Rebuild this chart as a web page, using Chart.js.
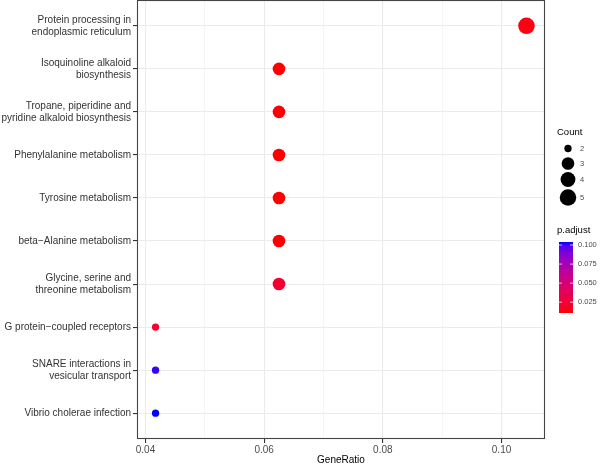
<!DOCTYPE html>
<html>
<head>
<meta charset="utf-8">
<script src="https://cdn.jsdelivr.net/npm/chart.js@4/dist/chart.umd.min.js"></script>
<style>
  html, body { margin: 0; padding: 0; background: #fff; }
  #wrap { width: 600px; height: 466px; }
</style>
</head>
<body>
<div id="wrap"><canvas id="dotplot" width="600" height="466"></canvas></div>
<script>
// enrichment terms, top to bottom
const terms = [
  'Protein processing in\nendoplasmic reticulum',
  'Isoquinoline alkaloid\nbiosynthesis',
  'Tropane, piperidine and\npyridine alkaloid biosynthesis',
  'Phenylalanine metabolism',
  'Tyrosine metabolism',
  'beta\u2212Alanine metabolism',
  'Glycine, serine and\nthreonine metabolism',
  'G protein\u2212coupled receptors',
  'SNARE interactions in\nvesicular transport',
  'Vibrio cholerae infection'
];
const geneRatio = [0.1042, 0.0625, 0.0625, 0.0625, 0.0625, 0.0625, 0.0625, 0.0417, 0.0417, 0.0417];
const counts    = [5, 3, 3, 3, 3, 3, 3, 2, 2, 2];
const pAdjust   = [0.0135, 0.0108, 0.0108, 0.0108, 0.0108, 0.0110, 0.0220, 0.0220, 0.1015, 0.1040];

const xTicks = [0.04, 0.06, 0.08, 0.10];
const xMinorTicks = [0.05, 0.07, 0.09];
const countBreaks = [2, 3, 4, 5];
const pBreaks = [0.025, 0.050, 0.075, 0.100];

const FONT = "'Liberation Sans', Arial, sans-serif";

// ggplot-like 5% expansion of x range
const gMin = Math.min(...geneRatio), gMax = Math.max(...geneRatio);
const xMin = gMin - 0.05 * (gMax - gMin);
const xMax = gMax + 0.05 * (gMax - gMin);

// point size: area scale like scale_size(range = c(3, 8))
const cMin = Math.min(...counts), cMax = Math.max(...counts);
function sizeOf(c) {
  return 0.92 * (3 + 5 * Math.sqrt((c - cMin) / (cMax - cMin))) + 0.9;
}

// red -> blue gradient interpolated in CIELAB
function toLin(c) { c /= 255; return c <= 0.04045 ? c / 12.92 : Math.pow((c + 0.055) / 1.055, 2.4); }
function fromLin(c) { c = c <= 0.0031308 ? 12.92 * c : 1.055 * Math.pow(c, 1 / 2.4) - 0.055; return Math.round(Math.max(0, Math.min(1, c)) * 255); }
function rgbToLab(r, g, b) {
  r = toLin(r); g = toLin(g); b = toLin(b);
  const X = (0.4124 * r + 0.3576 * g + 0.1805 * b) / 0.95047;
  const Y = (0.2126 * r + 0.7152 * g + 0.0722 * b);
  const Z = (0.0193 * r + 0.1192 * g + 0.9505 * b) / 1.08883;
  const f = t => t > 0.008856 ? Math.cbrt(t) : 7.787 * t + 16 / 116;
  return [116 * f(Y) - 16, 500 * (f(X) - f(Y)), 200 * (f(Y) - f(Z))];
}
function labToRgb(L, a, b) {
  const fy = (L + 16) / 116, fx = fy + a / 500, fz = fy - b / 200;
  const inv = t => t * t * t > 0.008856 ? t * t * t : (t - 16 / 116) / 7.787;
  const X = inv(fx) * 0.95047, Y = inv(fy), Z = inv(fz) * 1.08883;
  const r = 3.2406 * X - 1.5372 * Y - 0.4986 * Z;
  const g = -0.9689 * X + 1.8758 * Y + 0.0415 * Z;
  const bl = 0.0557 * X - 0.2040 * Y + 1.0570 * Z;
  return 'rgb(' + fromLin(r) + ',' + fromLin(g) + ',' + fromLin(bl) + ')';
}
const labLow = rgbToLab(255, 0, 0), labHigh = rgbToLab(0, 0, 255);
const pMin = Math.min(...pAdjust), pMax = Math.max(...pAdjust);
function colourOf(p) {
  const t = Math.max(0, Math.min(1, (p - pMin) / (pMax - pMin)));
  return labToRgb(
    labLow[0] + t * (labHigh[0] - labLow[0]),
    labLow[1] + t * (labHigh[1] - labLow[1]),
    labLow[2] + t * (labHigh[2] - labLow[2])
  );
}

// panel border + size and colour legends
const frameAndLegends = {
  id: 'frameAndLegends',
  afterDraw(chart) {
    const { ctx, chartArea: a } = chart;
    ctx.save();
    ctx.strokeStyle = '#444444';
    ctx.lineWidth = 1.1;
    ctx.strokeRect(Math.round(a.left) + 0.5, Math.round(a.top) + 0.5,
      Math.round(a.right - a.left) - 1, Math.round(a.bottom - a.top) - 1);

    // Count legend
    ctx.fillStyle = '#000';
    ctx.textBaseline = 'middle';
    ctx.textAlign = 'left';
    ctx.font = '9.5px ' + FONT;
    ctx.fillText('Count', 557, 132);
    const keyY = [148.5, 163.5, 179.5, 197.5];
    countBreaks.forEach((c, i) => {
      ctx.fillStyle = '#000';
      ctx.beginPath();
      ctx.arc(568, keyY[i], sizeOf(c), 0, Math.PI * 2);
      ctx.fill();
      ctx.fillStyle = '#4D4D4D';
      ctx.font = '7.5px ' + FONT;
      ctx.fillText(String(c), 580, keyY[i]);
    });

    // p.adjust colourbar
    ctx.fillStyle = '#000';
    ctx.font = '9.5px ' + FONT;
    ctx.fillText('p.adjust', 557, 230);
    const bx = 559, bw = 14, bTop = 242, bBot = 313;
    const grad = ctx.createLinearGradient(0, bBot, 0, bTop);
    for (let k = 0; k <= 20; k++) {
      grad.addColorStop(k / 20, colourOf(pMin + (k / 20) * (pMax - pMin)));
    }
    ctx.fillStyle = grad;
    ctx.fillRect(bx, bTop, bw, bBot - bTop);
    ctx.font = '7.5px ' + FONT;
    pBreaks.forEach(v => {
      const y = bBot - (v - pMin) / (pMax - pMin) * (bBot - bTop);
      ctx.strokeStyle = 'rgba(255,255,255,0.9)';
      ctx.lineWidth = 0.8;
      ctx.beginPath();
      ctx.moveTo(bx, y); ctx.lineTo(bx + 3, y);
      ctx.moveTo(bx + bw - 3, y); ctx.lineTo(bx + bw, y);
      ctx.stroke();
      ctx.fillStyle = '#4D4D4D';
      ctx.fillText(v.toFixed(3), 578, y);
    });
    ctx.restore();
  }
};

const isMajor = v => xTicks.some(t => Math.abs(t - v) < 1e-9);

new Chart(document.getElementById('dotplot').getContext('2d'), {
  type: 'scatter',
  data: {
    datasets: [{
      data: terms.map((t, i) => ({ x: geneRatio[i], y: i })),
      pointRadius: counts.map(sizeOf),
      pointHoverRadius: counts.map(sizeOf),
      backgroundColor: pAdjust.map(colourOf),
      borderWidth: 0
    }]
  },
  options: {
    responsive: false,
    animation: false,
    events: [],
    layout: { autoPadding: false, padding: { top: 0, right: 55, bottom: 0, left: 0 } },
    plugins: { legend: { display: false }, tooltip: { enabled: false } },
    scales: {
      x: {
        type: 'linear',
        min: xMin,
        max: xMax,
        afterBuildTicks: s => {
          s.ticks = [...xTicks, ...xMinorTicks].sort((a, b) => a - b).map(v => ({ value: v }));
        },
        afterFit: s => { s.height = 27; s.paddingLeft = 0; s.paddingRight = 0; },
        ticks: {
          autoSkip: false, maxRotation: 0, padding: 1,
          color: '#4D4D4D', font: { family: FONT, size: 10 },
          callback: v => isMajor(v) ? v.toFixed(2) : ''
        },
        grid: {
          color: c => (c.tick && isMajor(c.tick.value)) ? '#EBEBEB' : '#F3F3F3',
          lineWidth: c => (c.tick && isMajor(c.tick.value)) ? 1.1 : 0.8,
          tickLength: 4,
          tickColor: c => (c.tick && isMajor(c.tick.value)) ? '#333333' : 'rgba(0,0,0,0)'
        },
        border: { display: false },
        title: {
          display: true, text: 'GeneRatio', color: '#000',
          font: { family: FONT, size: 10 }, padding: { top: 0, bottom: 0 }
        }
      },
      y: {
        type: 'linear',
        reverse: true,
        min: -0.6,
        max: terms.length - 0.4,
        afterBuildTicks: s => { s.ticks = terms.map((t, i) => ({ value: i })); },
        afterFit: s => { s.width = 137; s.paddingTop = 0; s.paddingBottom = 0; },
        ticks: {
          autoSkip: false, padding: 2,
          color: '#333333', font: { family: FONT, size: 10, lineHeight: 1.2 },
          callback: v => terms[v] ? terms[v].split('\n') : ''
        },
        grid: { color: '#EBEBEB', lineWidth: 1.1, tickLength: 4, tickColor: '#333333' },
        border: { display: false }
      }
    }
  },
  plugins: [frameAndLegends]
});
</script>
</body>
</html>
